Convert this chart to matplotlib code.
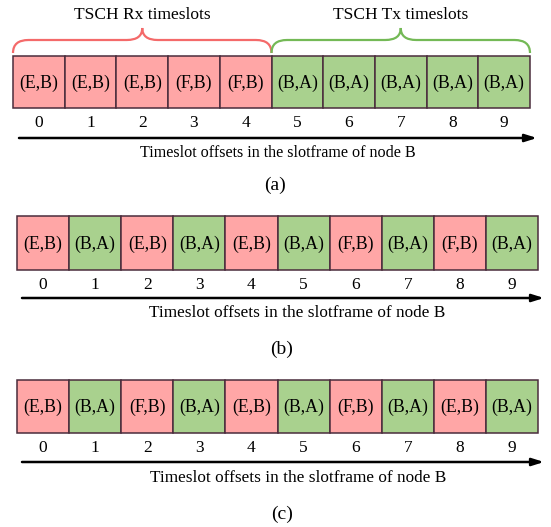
import matplotlib.pyplot as plt
from matplotlib.path import Path
from matplotlib.patches import PathPatch

plt.rcParams['font.family'] = ['Liberation Serif', 'DejaVu Serif']

# cell contents of the slotframe of node B, one list per schedule
offsets = list(range(10))
cells_a = ['(E,B)', '(E,B)', '(E,B)', '(F,B)', '(F,B)',
           '(B,A)', '(B,A)', '(B,A)', '(B,A)', '(B,A)']
cells_b = ['(E,B)', '(B,A)', '(E,B)', '(B,A)', '(E,B)',
           '(B,A)', '(F,B)', '(B,A)', '(F,B)', '(B,A)']
cells_c = ['(E,B)', '(B,A)', '(F,B)', '(B,A)', '(E,B)',
           '(B,A)', '(F,B)', '(B,A)', '(E,B)', '(B,A)']
captions = ['(a)', '(b)', '(c)']
axis_label = 'Timeslot offsets in the slotframe of node B'
groups = [('TSCH Rx timeslots', 0, 5), ('TSCH Tx timeslots', 5, 10)]

rx_color = '#ffa6a6'
tx_color = '#a9d18e'
edge = '#4a2c3c'
brace_colors = ['#f46a6a', '#74b956']

W, H = 551, 527
fig = plt.figure(figsize=(W / 100, H / 100), dpi=100)

# panel layout in pixels: box left, box right, box top, box bottom,
# tick row, arrow row, arrow start, arrow end, label row, label x, label size,
# caption row, caption x
panels = [
    (cells_a, 13, 530, 56, 108, 123, 138, 19, 537, 153, 278, 11.6, 185, 275),
    (cells_b, 17, 538, 216, 270, 285, 298, 22, 544, 313, 297, 12.4, 349, 282),
    (cells_c, 17, 538, 380, 433, 448, 462, 22, 544, 478, 298, 12.4, 514, 282),
]

for k, (cells, x0, x1, top, bot, tick_y, arr_y, a0, a1,
        lab_y, lab_x, lab_fs, cap_y, cap_x) in enumerate(panels):
    ax = fig.add_axes([0, 0, 1, 1])
    ax.axis('off')
    unit = (x1 - x0) / len(cells)
    # x in slot units, y in pixels from the top
    ax.set_xlim(-x0 / unit, (W - x0) / unit)
    ax.set_ylim(H, 0)
    px = lambda p: (p - x0) / unit

    colors = [rx_color if c.endswith('B)') else tx_color for c in cells]
    ax.bar(offsets, bot - top, width=1, bottom=top, align='edge',
           color=colors, edgecolor=edge, linewidth=1.1)
    for i, c in zip(offsets, cells):
        ax.text(i + 0.5, (top + bot) / 2 + 1, c, ha='center', va='center', fontsize=12.8)
        ax.text(i + 0.5, tick_y, str(i), ha='center', va='center', fontsize=12.5)

    ax.annotate('', xy=(px(a1), arr_y), xytext=(px(a0), arr_y),
                arrowprops=dict(arrowstyle='-|>,head_length=0.7,head_width=0.22',
                                color='black', lw=1.8, shrinkA=0, shrinkB=0))
    ax.text(px(lab_x), lab_y, axis_label, ha='center', va='center', fontsize=lab_fs)
    ax.text(px(cap_x), cap_y, captions[k], ha='center', va='center', fontsize=14)

    if k == 0:
        # curly braces above the Rx and Tx groups
        for (title, s, e), bc in zip(groups, brace_colors):
            mid = (s + e) / 2
            yb, yh, yt = top - 3, top - 16, top - 28
            r = 0.3
            verts = [(s, yb), (s, yh), (s + r, yh), (mid - r, yh), (mid, yh), (mid, yt),
                     (mid, yh), (mid + r, yh), (e - r, yh), (e, yh), (e, yb)]
            codes = [Path.MOVETO, Path.CURVE3, Path.CURVE3, Path.LINETO,
                     Path.CURVE3, Path.CURVE3, Path.CURVE3, Path.CURVE3,
                     Path.LINETO, Path.CURVE3, Path.CURVE3]
            ax.add_patch(PathPatch(Path(verts, codes), fill=False, edgecolor=bc, lw=1.6))
            ax.text(mid, 15, title, ha='center', va='center', fontsize=12.5)

fig.savefig('out.png', dpi=100)
